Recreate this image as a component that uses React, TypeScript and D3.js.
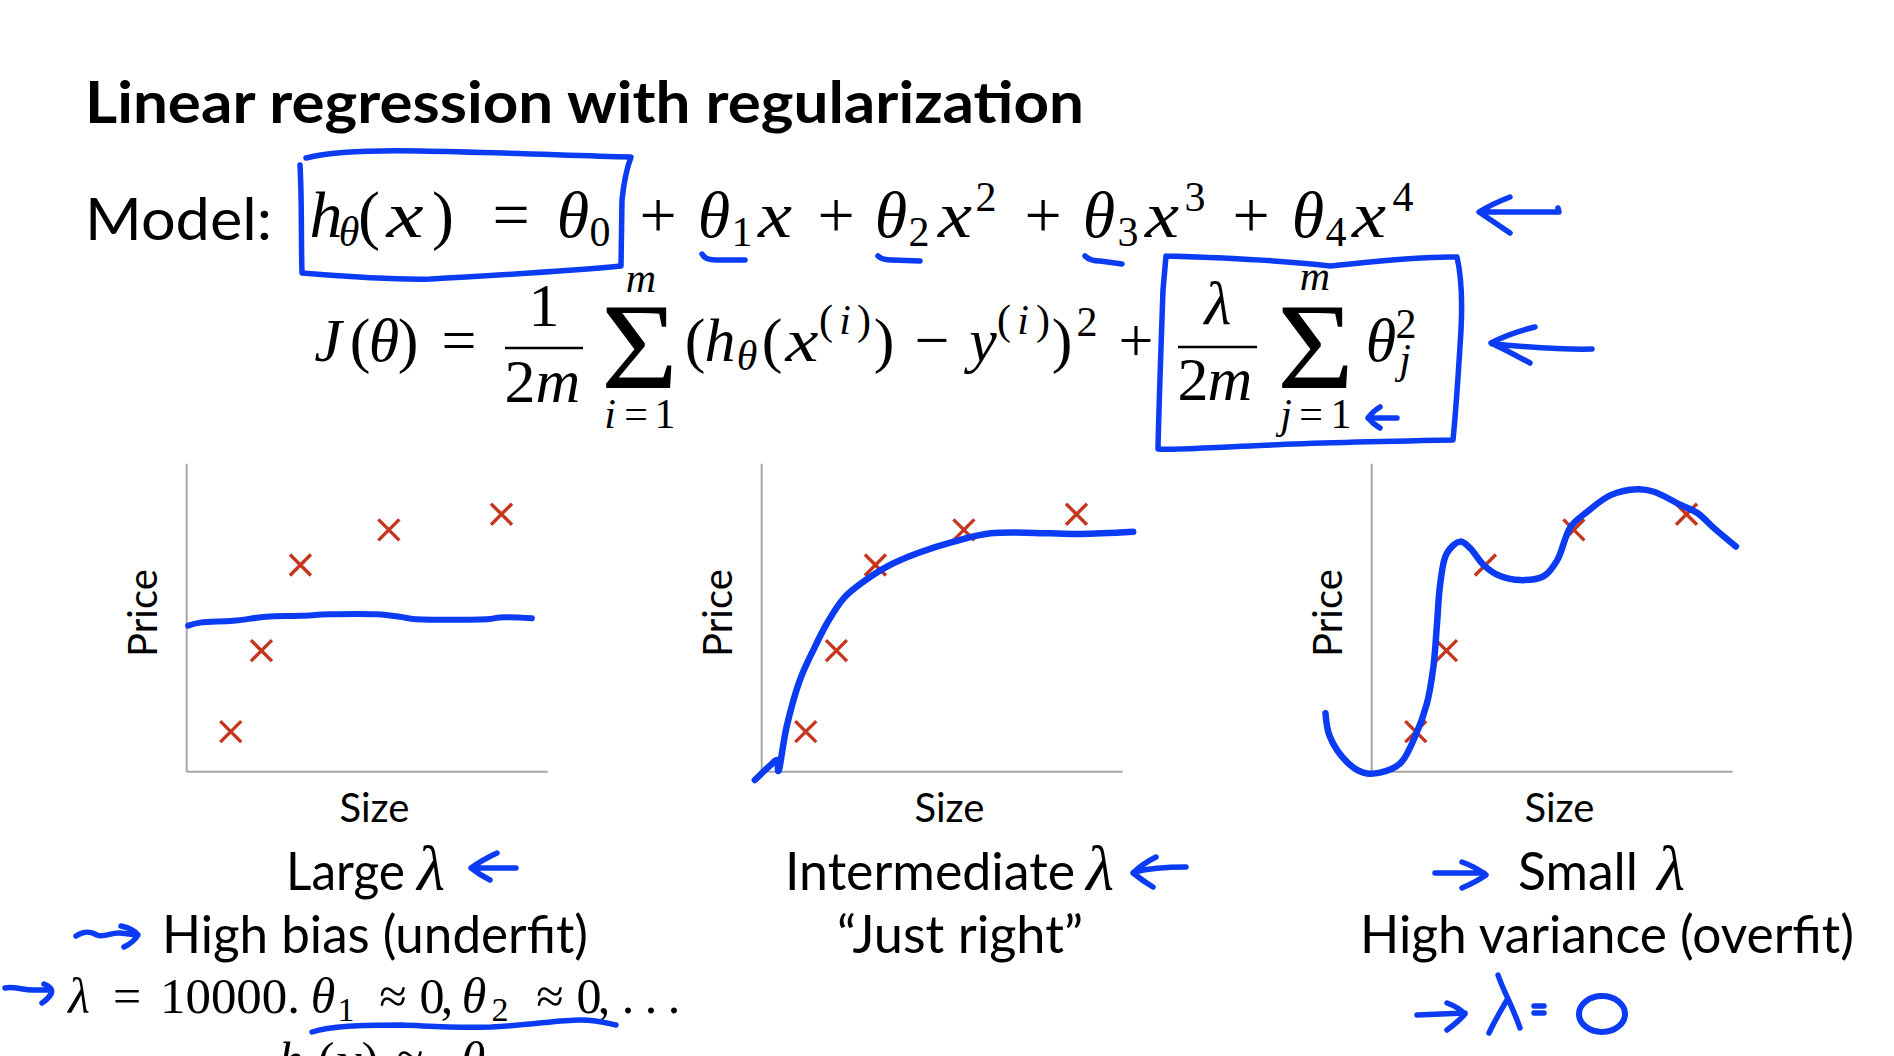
import React from "react";
import * as d3 from "d3";

// ---------------- data ----------------
const sizeX = [1.22, 2.07, 3.15, 5.6, 8.72];
const priceY = [1.3, 3.93, 6.71, 7.85, 8.36];

const fitLarge: [number, number][] = [
  [0.04, 4.74], [0.37, 4.84], [1.29, 4.9], [2.2, 5.03], [3.13, 5.06], [3.97, 5.11],
  [5.26, 5.11], [5.91, 5.03], [6.28, 4.96], [8.4, 4.96], [8.68, 5.01], [9.56, 4.98],
];
const fitMid: [number, number][] = [
  [-0.19, -0.27], [0.25, 0.22], [0.42, 0.38], [0.46, 0.02], [0.69, 1.46], [1.06, 2.98],
  [1.43, 3.95], [1.81, 4.82], [2.27, 5.63], [2.82, 6.17], [3.47, 6.66], [4.31, 7.09],
  [5.32, 7.47], [6.34, 7.74], [8.01, 7.74], [8.84, 7.72], [10.29, 7.79],
];
const fitSmall: [number, number][] = [
  [-1.28, 1.9], [-1.16, 1.14], [-0.69, 0.32], [-0.23, -0.03], [0.23, -0.03], [0.79, 0.27],
  [1.2, 1.14], [1.53, 2.22], [1.71, 3.41], [1.81, 4.82], [1.9, 6.12], [2.08, 7.09],
  [2.45, 7.47], [2.73, 7.25], [3.1, 6.71], [3.56, 6.35], [4.12, 6.22], [4.77, 6.35],
  [5.14, 6.87], [5.51, 7.95], [5.97, 8.44], [6.62, 8.98], [7.36, 9.17], [7.82, 9.09],
  [8.56, 8.66], [9.03, 8.39], [9.49, 7.9], [10.09, 7.31],
];
const fits = [fitLarge, fitMid, fitSmall];
const xLabel = "Size";
const yLabel = "Price";

// ---------------- layout / style ----------------
const W = 1894;
const H = 1056;
const BLUE = "#0b3cf4";
const RED = "#c5361e";
const AXIS = "#a6a6a6";
const SANS = "Lato, 'Open Sans', sans-serif";
const SERIF = "'Liberation Serif', 'DejaVu Serif', serif";
const panelX0 = [186.7, 761.7, 1371.7];
const PW = 361;
const PBOT = 771.7;
const PH = 308;

// [text, centre x, baseline y, font size, italic, optional glyph width]
type Tok = [string, number, number, number, boolean, number?];

const S1 = 66, s1 = 42, B1 = 237;
const formula1: Tok[] = [
  ["h", 326, B1, S1, true], ["θ", 349, B1 + 9, s1, true], ["(", 369, B1, S1, false],
  ["x", 405, B1, S1, true, 37], [")", 443, B1, S1, false], ["=", 511, B1, S1, false],
  ["θ", 573, B1, S1, true], ["0", 600, B1 + 9, s1, false], ["+", 658, B1, S1, false],
  ["θ", 714, B1, S1, true], ["1", 742, B1 + 9, s1, false], ["x", 775, B1, S1, true, 34],
  ["+", 836, B1, S1, false], ["θ", 891, B1, S1, true], ["2", 919, B1 + 9, s1, false],
  ["x", 955, B1, S1, true, 34], ["2", 986, B1 - 26, s1, false], ["+", 1043, B1, S1, false],
  ["θ", 1099, B1, S1, true], ["3", 1128, B1 + 9, s1, false], ["x", 1162, B1, S1, true, 34],
  ["3", 1195, B1 - 26, s1, false], ["+", 1251, B1, S1, false], ["θ", 1308, B1, S1, true],
  ["4", 1336, B1 + 9, s1, false], ["x", 1369, B1, S1, true, 34], ["4", 1403, B1 - 26, s1, false],
];

const S2 = 62, s2 = 42, B2 = 361;
const formula2: Tok[] = [
  ["J", 328, B2, S2, true], ["(", 360, B2, S2, false], ["θ", 384, B2, S2, true],
  [")", 408, B2, S2, false], ["=", 459, B2, S2, false],
  ["1", 544, 326, S2, false], ["2", 520, 402, S2, false], ["m", 558, 402, S2, true],
  ["m", 641, 292, s2, true], ["i", 610, 428, s2, true], ["=", 636, 428, s2, false], ["1", 665, 428, s2, false],
  ["(", 695, B2, S2, false], ["h", 720, B2, S2, true], ["θ", 747, B2 + 9, s2, true],
  ["(", 772, B2, S2, false], ["x", 802, B2, S2, true, 33],
  ["(", 826, 334, s2, false], ["i", 845, 334, s2, true], [")", 864, 334, s2, false],
  [")", 884, B2, S2, false], ["−", 932, B2, S2, false], ["y", 983, B2, S2, true],
  ["(", 1004, 334, s2, false], ["i", 1023, 334, s2, true], [")", 1043, 334, s2, false],
  [")", 1062, B2, S2, false], ["2", 1087, 336, s2, false], ["+", 1136, B2, S2, false],
  ["λ", 1218, 324, S2, true], ["2", 1193, 400, S2, false], ["m", 1230, 400, S2, true],
  ["m", 1315, 290, s2, true], ["j", 1286, 428, s2, true], ["=", 1311, 428, s2, false], ["1", 1341, 428, s2, false],
  ["θ", 1381, B2, S2, true], ["2", 1406, 338, s2, false], ["j", 1405, 373, s2, true],
];

const S3 = 50, s3 = 34, B3 = 1013;
const formula3: Tok[] = [
  ["λ", 79, B3, S3, true], ["=", 127, B3, S3, false],
  ["θ", 323, B3, S3, true], ["1", 346, B3 + 8, s3, false], ["≈", 393, B3, S3, false],
  ["0", 432, B3, S3, false], [",", 447, B3, S3, false],
  ["θ", 474, B3, S3, true], ["2", 500, B3 + 8, s3, false], ["≈", 550, B3, S3, false],
  ["0", 589, B3, S3, false], [",", 604, B3, S3, false],
  [".", 628, B3, S3, false], [".", 651, B3, S3, false], [".", 674, B3, S3, false],
  ["h", 291, 1077, S3, true], ["θ", 311, 1085, s3, true], ["(", 326, 1077, S3, false],
  ["x", 348, 1077, S3, true, 28], [")", 370, 1077, S3, false], ["≈", 410, 1077, S3, false],
  ["θ", 473, 1077, S3, true], ["0", 494, 1085, s3, false],
];

// hand-drawn blue annotations
const annotations: string[] = [
  // box 1
  "M300,165 C302,200 301,240 302,273 C340,276 400,280 430,279 C480,276 560,272 621,266 L622,200 C624,180 628,165 631,157 C560,155 480,152 420,151 C370,150 330,152 306,158",
  // box 2
  "M1166,256 C1200,257 1280,260 1330,266 C1370,262 1420,256 1457,257 C1460,270 1463,290 1461,330 C1458,380 1455,420 1453,440 C1400,441 1300,443 1250,446 C1200,448 1170,450 1158,449 C1159,400 1162,320 1163,290 L1166,256",
  // underlines under theta1..3
  "M702,254 Q705,260 716,260 L745,260",
  "M878,256 Q882,260 892,260 L920,261",
  "M1085,256 Q1090,261 1100,261 L1122,264",
  // arrow 1 (formula 1)
  "M1510,197 Q1492,204 1479,212 Q1494,222 1510,233 M1480,212 L1559,212 L1558,208",
  // arrow 2 (formula 2)
  "M1535,327 Q1510,333 1491,343 Q1510,352 1530,363 M1492,344 C1530,347 1560,350 1592,349",
  // small arrow at j=1
  "M1380,407 Q1372,412 1368,418 Q1373,424 1380,428 M1368,418 L1397,418",
  // large lambda arrow
  "M497,853 Q482,860 471,868 Q480,875 490,880 M472,868 L516,868",
  // intermediate lambda arrow
  "M1156,857 Q1142,864 1133,873 Q1143,881 1153,887 M1134,872 C1150,868 1170,867 1186,867",
  // small lambda arrow
  "M1435,873 L1484,873 M1462,862 Q1476,867 1486,875 Q1476,882 1462,888",
  // high bias squiggle arrow
  "M76,936 C84,931 90,931 97,935 C104,938 112,932 120,933 L138,935 M121,926 Q134,929 138,935 Q134,942 124,947",
  // lambda=10000 arrow
  "M5,988 C15,986 25,991 35,990 L50,990 M44,984 Q54,988 51,994 Q48,999 42,1003",
  // underline theta1..theta2
  "M312,1032 C330,1026 360,1025 402,1025 C430,1026 450,1028 491,1027 C530,1025 560,1020 580,1020 C600,1020 610,1024 616,1025",
  // -> lambda = 0
  "M1417,1015 L1465,1013 M1447,1003 Q1458,1007 1465,1014 Q1458,1022 1447,1030",
  "M1498,975 C1503,990 1512,1005 1520,1028 M1507,1000 C1500,1012 1494,1022 1489,1033",
  "M1534,1006 L1544,1006 M1534,1013 L1544,1013",
];

function MathToks({ toks }: { toks: Tok[] }) {
  return (
    <g fontFamily={SERIF} fill="#000" textAnchor="middle">
      {toks.map((t, i) =>
        t[5] ? (
          <text
            key={i}
            x={t[1] - t[5] / 2}
            y={t[2]}
            fontSize={t[3]}
            fontStyle={t[4] ? "italic" : "normal"}
            textAnchor="start"
            textLength={t[5]}
            lengthAdjust="spacingAndGlyphs"
          >
            {t[0]}
          </text>
        ) : (
          <text key={i} x={t[1]} y={t[2]} fontSize={t[3]} fontStyle={t[4] ? "italic" : "normal"}>
            {t[0]}
          </text>
        )
      )}
    </g>
  );
}

function Panel({ idx }: { idx: number }) {
  const x0 = panelX0[idx];
  const x = d3.scaleLinear().domain([0, 10]).range([x0, x0 + PW]);
  const y = d3.scaleLinear().domain([0, 10]).range([PBOT, PBOT - PH]);
  const line = d3
    .line<[number, number]>()
    .x((d) => x(d[0]))
    .y((d) => y(d[1]))
    .curve(d3.curveCatmullRom.alpha(0.5));
  return (
    <g>
      <line x1={x(0)} x2={x(0)} y1={y(10)} y2={y(0)} stroke={AXIS} strokeWidth={2} />
      <line x1={x(0)} x2={x(10)} y1={y(0)} y2={y(0)} stroke={AXIS} strokeWidth={2} />
      <text
        transform={`translate(${x(0) - 30},${y(5.15)}) rotate(-90)`}
        textAnchor="middle"
        fontFamily={SANS}
        fontSize={40}
      >
        {yLabel}
      </text>
      <text x={x(5.2)} y={822} textAnchor="middle" fontFamily={SANS} fontSize={40}>
        {xLabel}
      </text>
      {sizeX.map((sx, i) => {
        const cx = x(sx);
        const cy = y(priceY[i]);
        const r = 10.5;
        return (
          <path
            key={i}
            d={`M${cx - r},${cy - r}L${cx + r},${cy + r}M${cx - r},${cy + r}L${cx + r},${cy - r}`}
            stroke={RED}
            strokeWidth={3.4}
            fill="none"
          />
        );
      })}
      <path
        d={line(fits[idx]) || ""}
        fill="none"
        stroke={BLUE}
        strokeWidth={idx === 0 ? 6 : 6.5}
        strokeLinecap="round"
        strokeLinejoin="round"
      />
    </g>
  );
}

export default function App() {
  return (
    <svg
      width={W}
      height={H}
      viewBox={`0 0 ${W} ${H}`}
      style={{ position: "fixed", left: 0, top: 0, background: "#fff" }}
    >
      <rect width={W} height={H} fill="#fff" />
      <text
        x={85}
        y={123}
        fontFamily={SANS}
        fontWeight={700}
        fontSize={57}
        textLength={999}
        lengthAdjust="spacingAndGlyphs"
      >
        Linear regression with regularization
      </text>
      <text x={85} y={240} fontFamily={SANS} fontSize={58} textLength={187} lengthAdjust="spacingAndGlyphs">
        Model:
      </text>

      <MathToks toks={formula1} />
      <MathToks toks={formula2} />
      {/* fraction bars */}
      <line x1={505} x2={583} y1={348} y2={348} stroke="#000" strokeWidth={2.6} />
      <line x1={1178} x2={1257} y1={347} y2={347} stroke="#000" strokeWidth={2.6} />
      {/* summation signs */}
      <text x={601} y={388} fontFamily={SERIF} fontSize={122} textLength={77} lengthAdjust="spacingAndGlyphs">
        Σ
      </text>
      <text x={1277} y={388} fontFamily={SERIF} fontSize={122} textLength={77} lengthAdjust="spacingAndGlyphs">
        Σ
      </text>

      {[0, 1, 2].map((i) => (
        <Panel key={i} idx={i} />
      ))}

      {/* lower labels */}
      <g fontFamily={SANS} fontSize={52} fill="#000">
        <text x={286} y={890} textLength={119} lengthAdjust="spacingAndGlyphs">Large</text>
        <text x={785} y={890} textLength={290} lengthAdjust="spacingAndGlyphs">Intermediate</text>
        <text x={1518} y={890} textLength={120} lengthAdjust="spacingAndGlyphs">Small</text>
        <text x={162} y={953} textLength={426} lengthAdjust="spacingAndGlyphs">High bias (underfit)</text>
        <text x={837} y={953} textLength={246} lengthAdjust="spacingAndGlyphs">“Just right”</text>
        <text x={1360} y={953} textLength={494} lengthAdjust="spacingAndGlyphs">High variance (overfit)</text>
      </g>
      <g fontFamily={SERIF} fontStyle="italic" fontSize={64} textAnchor="middle">
        <text x={431} y={890}>λ</text>
        <text x={1100} y={890}>λ</text>
        <text x={1671} y={890}>λ</text>
      </g>
      <text x={160} y={B3} fontFamily={SERIF} fontSize={S3} textLength={140} lengthAdjust="spacingAndGlyphs">
        10000.
      </text>
      <MathToks toks={formula3} />

      <g fill="none" stroke={BLUE} strokeWidth={5.5} strokeLinecap="round" strokeLinejoin="round">
        {annotations.map((d, i) => (
          <path key={i} d={d} />
        ))}
        <ellipse cx={1602} cy={1014} rx={23} ry={18} strokeWidth={6} />
      </g>
    </svg>
  );
}
